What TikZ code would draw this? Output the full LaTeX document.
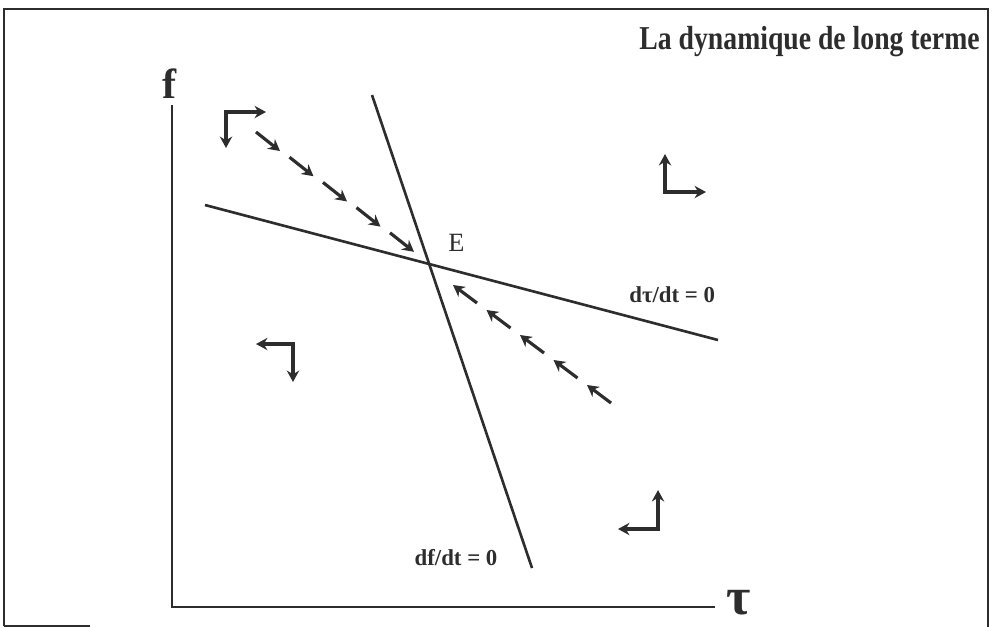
\documentclass[tikz,border=0pt]{standalone}
\usepackage{fontspec}
\setmainfont{Liberation Serif}
\usetikzlibrary{arrows.meta}
\definecolor{ink}{RGB}{45,45,45}
\begin{document}
\begin{tikzpicture}[x=0.02cm, y=-0.02cm, color=ink,
        axis/.style={line width=1.6pt},
        locus/.style={line width=1.5pt},
        flow/.style={line width=1.8pt, -{Stealth[length=6.5pt,width=7pt]}},
        corner/.style={line width=2pt, {Stealth[length=6.5pt,width=7pt]}-{Stealth[length=6.5pt,width=7pt]}},
        lbl/.style={inner sep=0pt, font=\bfseries\fontsize{13}{15}\selectfont}]
        \useasboundingbox (0,0) rectangle (996,627);
        % Frame and title
        \draw[line width=1.2pt] (4,626) -- (4,9) -- (988,9) -- (988,627);
        \draw[line width=1.2pt] (4,626) -- (90,626);
        \node[anchor=base east, inner sep=0pt, font=\bfseries\fontsize{19}{21}\selectfont] (title) at (980,49) {\scalebox{0.83}[1]{La dynamique de long terme}};
        % Axes
        \coordinate (O) at (172,607);
        \coordinate (ytop) at (172,105);
        \coordinate (xend) at (715,607);
        \draw[axis] (ytop) -- (O) -- (xend);
        \node[anchor=base, inner sep=0pt, font=\bfseries\fontsize{24}{26}\selectfont] (flabel) at (170,98) {f};
        \node[anchor=base west, inner sep=0pt, font=\bfseries\fontsize{30}{32}\selectfont] (taulabel) at (726,614) {τ};
        % Stationary loci
        \coordinate (ta) at (205,205);
        \coordinate (tb) at (718,340);
        \coordinate (fa) at (372,95);
        \coordinate (fb) at (532,568);
        \draw[locus] (ta) -- (tb);
        \draw[locus] (fa) -- (fb);
        \node[lbl, anchor=base west] (dtau) at (629,302) {dτ/dt = 0};
        \node[lbl, anchor=base] (df) at (456,565) {df/dt = 0};
        \node[anchor=base west, inner sep=0pt, font=\fontsize{15}{17}\selectfont] (E) at (448,251) {E};
        % Saddle path
        \foreach \i in {0,...,4} {
            \coordinate (s\i) at ({256+33.5*\i},{132+25.2*\i});
            \coordinate (e\i) at ({280+33.5*\i},{151+25.2*\i});
            \draw[flow] (s\i) -- (e\i);
            \coordinate (u\i) at ({611-33.5*\i},{403-25*\i});
            \coordinate (v\i) at ({587-33.5*\i},{385-25*\i});
            \draw[flow] (u\i) -- (v\i);
        }
        % Directions of motion
        \coordinate (c1) at (226,112);
        \draw[corner] (226,148) -- (c1) -- (266,112);
        \coordinate (c2) at (665,192);
        \draw[corner] (665,154) -- (c2) -- (706,192);
        \coordinate (c3) at (293,344);
        \draw[corner] (256,344) -- (c3) -- (293,382);
        \coordinate (c4) at (658,529);
        \draw[corner] (618,529) -- (c4) -- (658,490);
\end{tikzpicture}
\end{document}
